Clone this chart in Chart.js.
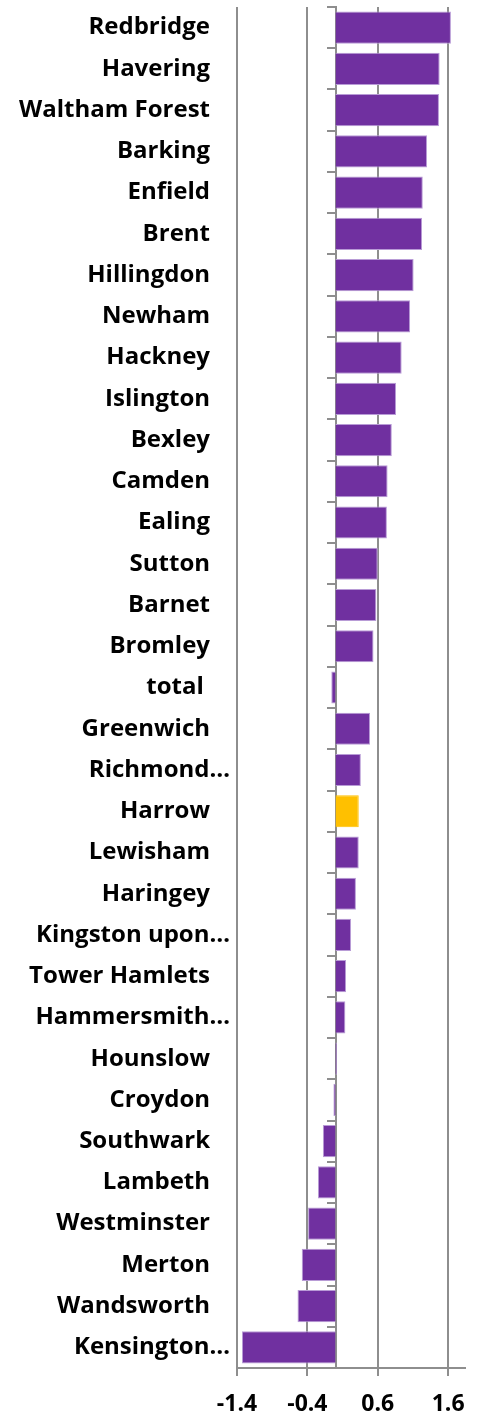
<!DOCTYPE html>
<html>
<head>
<meta charset="utf-8">
<script src="https://cdn.jsdelivr.net/npm/chart.js@4"></script>
<style>
  html, body { margin: 0; padding: 0; background: #fff; }
  #wrap { width: 482px; height: 1416px; }
</style>
</head>
<body>
<div id="wrap"><canvas id="boroughChart"></canvas></div>
<script>
// boroughs, top to bottom as shown
const boroughs = ['Redbridge', 'Havering', 'Waltham Forest', 'Barking', 'Enfield', 'Brent',
  'Hillingdon', 'Newham', 'Hackney', 'Islington', 'Bexley', 'Camden', 'Ealing', 'Sutton',
  'Barnet', 'Bromley', 'total ', 'Greenwich', 'Richmond\u2026', 'Harrow', 'Lewisham',
  'Haringey', 'Kingston upon\u2026', 'Tower Hamlets', 'Hammersmith\u2026', 'Hounslow',
  'Croydon', 'Southwark', 'Lambeth', 'Westminster', 'Merton', 'Wandsworth', 'Kensington\u2026'];
const scores = [1.64, 1.48, 1.47, 1.30, 1.24, 1.23, 1.11, 1.06, 0.94, 0.86, 0.80, 0.74, 0.73,
  0.60, 0.58, 0.54, -0.06, 0.49, 0.36, 0.33, 0.33, 0.29, 0.22, 0.15, 0.14, 0.02, -0.03,
  -0.18, -0.25, -0.39, -0.48, -0.54, -1.33];
const xTicks = [-1.4, -0.4, 0.6, 1.6];
const highlight = 'Harrow';

const purple = '#7030a0';
const gold = '#ffc000';
const axisGrey = '#8e8e8e';
const labelFont = 'Open Sans';

const ctx = document.getElementById('boroughChart');
new Chart(ctx, {
    type: 'bar',
    data: {
        labels: boroughs,
        datasets: [{
            data: scores,
            backgroundColor: boroughs.map(b => b === highlight ? gold : purple),
            borderColor: boroughs.map(b => b === highlight ? gold : '#b89bd6'),
            borderWidth: 1,
            barPercentage: 0.78,
            categoryPercentage: 1
        }]
    },
    options: {
        indexAxis: 'y',
        responsive: true,
        maintainAspectRatio: false,
        animation: false,
        layout: { padding: { top: 7, right: 17, left: 0, bottom: 0 } },
        plugins: {
            legend: { display: false },
            tooltip: { enabled: false }
        },
        scales: {
            x: {
                min: -1.4,
                max: 1.84,
                afterBuildTicks: s => { s.ticks = xTicks.map(v => ({ value: v })); },
                afterFit: s => { s.height = 48; s.paddingLeft = 0; s.paddingRight = 0; },
                grid: { color: axisGrey, lineWidth: 2, tickLength: 8 },
                border: { display: true, color: axisGrey, width: 2 },
                ticks: {
                    color: '#000',
                    padding: 15,
                    font: { family: labelFont, weight: 'bold', size: 23 },
                    callback: v => String(v)
                }
            },
            y: {
                afterFit: s => { s.width = 237; s.paddingTop = 0; s.paddingBottom = 0; },
                grid: { display: false, drawTicks: false },
                border: { display: false },
                ticks: {
                    color: '#000',
                    padding: 7,
                    autoSkip: false,
                    font: { family: labelFont, weight: 'bold', size: 24 },
                    // truncated names run to the edge, the rest sit a little further in
                    callback: function (v) {
                        const name = this.getLabelForValue(v);
                        return name.endsWith('\u2026') ? name : name + '\u2002\u2004';
                    }
                }
            },
            zeroAxis: {
                type: 'category',
                axis: 'y',
                position: { x: 0 },
                offset: true,
                grid: { offset: true, drawOnChartArea: false, drawTicks: true, tickLength: 8, color: axisGrey, lineWidth: 2 },
                border: { display: true, color: axisGrey, width: 2 },
                ticks: { display: false }
            }
        }
    }
});
</script>
</body>
</html>
